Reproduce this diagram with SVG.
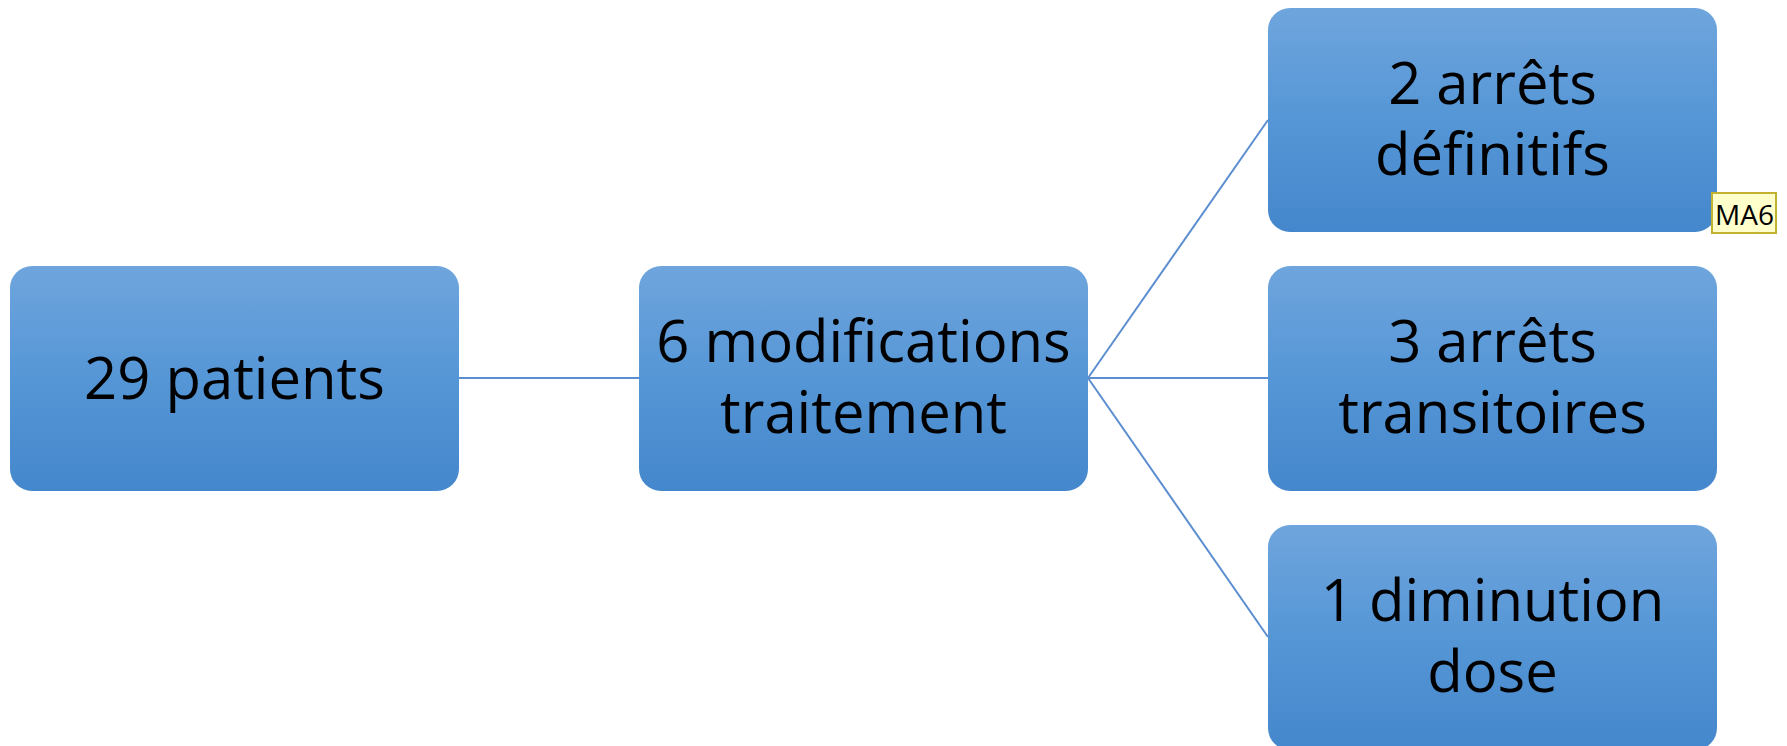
<svg xmlns="http://www.w3.org/2000/svg" width="1787" height="746" viewBox="0 0 1787 746">
<defs>
<linearGradient id="g" x1="0" y1="0" x2="0" y2="1">
<stop offset="0" stop-color="#6fa5dd"/>
<stop offset="0.5" stop-color="#5596d6"/>
<stop offset="1" stop-color="#4587cc"/>
</linearGradient>
<style>
.box{fill:url(#g);}
.t{font-family:"Open Sans","Noto Sans",sans-serif;font-size:58px;fill:#000;text-anchor:middle;}
.c{stroke:#5b8ed0;stroke-width:2;fill:none;}
.note{fill:#ffffcc;stroke:#c2b230;stroke-width:2;}
.nt{font-family:"Open Sans","Noto Sans",sans-serif;font-size:28px;fill:#000;}
</style>
</defs>
<rect width="1787" height="746" fill="#fff"/>
<g id="connectors">
<line class="c" x1="459" y1="378" x2="639" y2="378"/>
<line class="c" x1="1088" y1="378" x2="1268" y2="120"/>
<line class="c" x1="1088" y1="378" x2="1268" y2="378"/>
<line class="c" x1="1088" y1="378" x2="1268" y2="637"/>
</g>
<g id="n1">
<rect class="box" x="10" y="266" width="449" height="225" rx="22"/>
<text class="t" x="234.5" y="399">29 patients</text>
</g>
<g id="n2">
<rect class="box" x="639" y="266" width="449" height="225" rx="22"/>
<text class="t" x="863.5" y="362">6 modifications</text>
<text class="t" x="863.5" y="433">traitement</text>
</g>
<g id="n3">
<rect class="box" x="1268" y="8" width="449" height="224" rx="22"/>
<text class="t" x="1492.5" y="104">2 arrêts</text>
<text class="t" x="1492.5" y="175">définitifs</text>
</g>
<g id="n4">
<rect class="box" x="1268" y="266" width="449" height="225" rx="22"/>
<text class="t" x="1492.5" y="362">3 arrêts</text>
<text class="t" x="1492.5" y="433">transitoires</text>
</g>
<g id="n5">
<rect class="box" x="1268" y="525" width="449" height="225" rx="22"/>
<text class="t" x="1492.5" y="621">1 diminution</text>
<text class="t" x="1492.5" y="692">dose</text>
</g>
<g id="note">
<rect class="note" x="1712" y="193" width="64" height="40"/>
<text class="nt" x="1715" y="225">MA6</text>
</g>
</svg>
